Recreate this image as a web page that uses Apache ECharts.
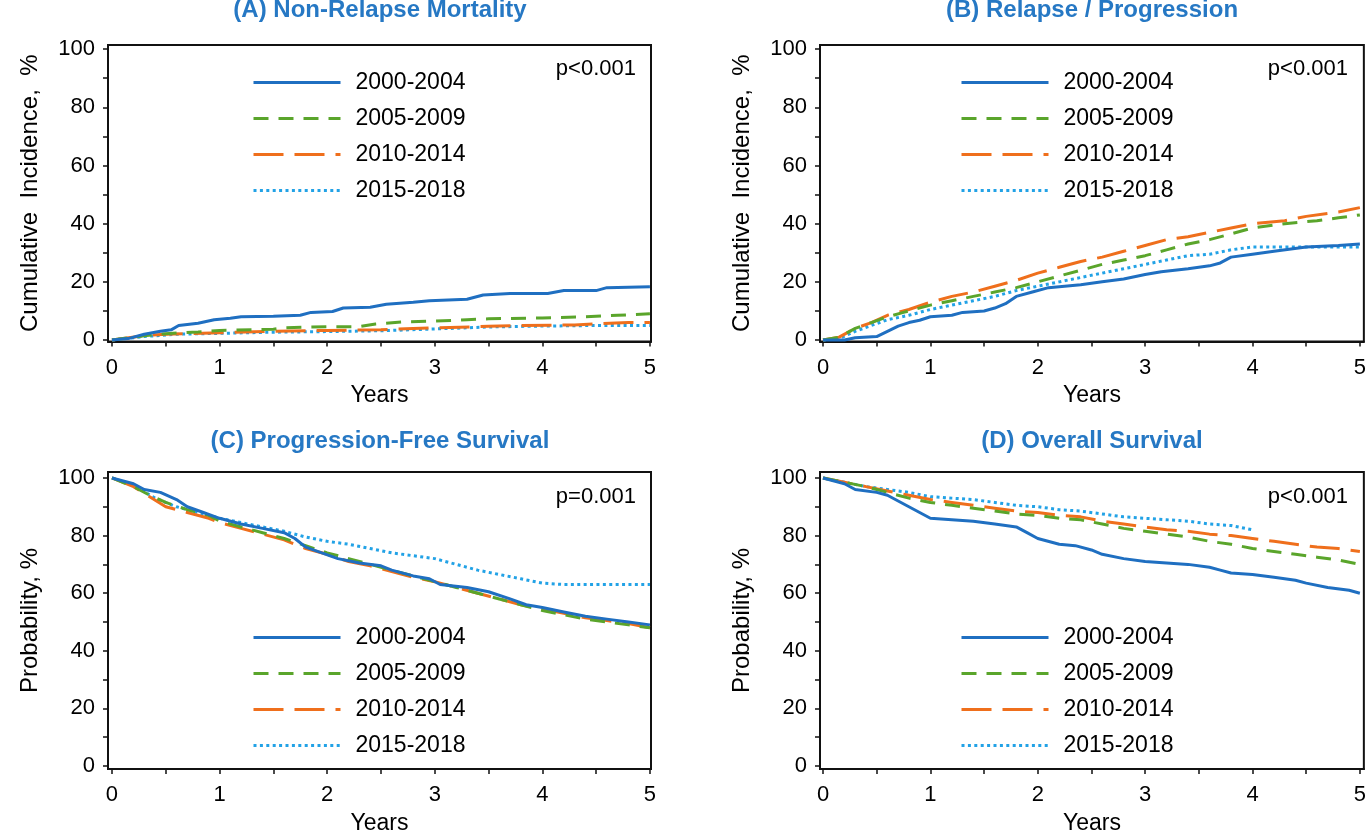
<!DOCTYPE html>
<html>
<head>
<meta charset="utf-8">
<script src="https://cdn.jsdelivr.net/npm/echarts@6/dist/echarts.min.js"></script>
<style>
html,body{margin:0;padding:0;background:#fff;}
#chart{width:1369px;height:836px;}
</style>
</head>
<body>
<div id="chart"></div>
<script>
// ---------- labels ----------
const groups = ['2000-2004', '2005-2009', '2010-2014', '2015-2018'];
const panelTitles = ['(A) Non-Relapse Mortality', '(B) Relapse / Progression', '(C) Progression-Free Survival', '(D) Overall Survival'];
const pValues = ['p<0.001', 'p<0.001', 'p=0.001', 'p<0.001'];
const yNames = ['Cumulative  Incidence,  %', 'Cumulative  Incidence,  %', 'Probability, %', 'Probability, %'];
const xName = 'Years';
const xTickValues = [0, 0.5, 1, 1.5, 2, 2.5, 3, 3.5, 4, 4.5, 5];
const xLabelValues = [0, 1, 2, 3, 4, 5];
const yTickValues = [0, 10, 20, 30, 40, 50, 60, 70, 80, 90, 100];
const yLabelValues = [0, 20, 40, 60, 80, 100];

// ---------- (A) Non-relapse mortality: [years, %] ----------
const nrm2000 = [[0,0],[0.15,0.5],[0.3,2],[0.45,3],[0.55,3.5],[0.62,5],[0.8,5.8],[0.95,7],[1.1,7.5],[1.2,8],[1.5,8.2],[1.75,8.5],[1.85,9.5],[2.05,9.8],[2.15,11],[2.4,11.3],[2.55,12.3],[2.8,13],[2.95,13.5],[3.3,14],[3.45,15.5],[3.7,16],[4.05,16],[4.2,17],[4.5,17],[4.6,18],[5,18.3]];
const nrm2005 = [[0,0],[0.3,1.5],[0.5,2.2],[0.8,2.8],[1.0,3.3],[1.5,3.7],[1.6,4.2],[1.8,4.4],[2.0,4.6],[2.3,4.6],[2.45,5.5],[2.7,6.2],[3.0,6.5],[3.3,7],[3.5,7.3],[4.0,7.6],[4.4,8],[4.7,8.5],[5,9]];
const nrm2010 = [[0,0],[0.3,1.5],[0.5,2],[1.0,2.5],[1.5,3],[2.0,3.3],[2.5,3.5],[2.8,4],[3.0,4.2],[3.5,4.7],[3.8,5],[4.3,5.2],[4.5,5.6],[4.8,6],[5,6]];
const nrm2015 = [[0,0],[0.3,1.2],[0.6,2],[1.0,2.3],[1.5,2.7],[2.0,2.9],[2.5,3.2],[3.0,3.8],[3.5,4.5],[4.0,4.8],[4.5,5],[5,5]];

// ---------- (B) Relapse / progression ----------
const rel2000 = [[0,0],[0.2,0],[0.3,0.8],[0.5,1.2],[0.6,3],[0.7,4.8],[0.8,6],[0.9,6.8],[1.0,8],[1.2,8.5],[1.3,9.5],[1.5,10],[1.6,11],[1.7,12.5],[1.8,15],[1.95,16.5],[2.1,18],[2.4,19],[2.6,20],[2.8,21],[3.0,22.5],[3.15,23.5],[3.4,24.5],[3.6,25.5],[3.7,26.5],[3.8,28.5],[4.0,29.5],[4.2,30.5],[4.5,32],[4.8,32.5],[5,33]];
const rel2005 = [[0,0],[0.15,1],[0.3,4],[0.45,6],[0.6,8],[0.75,9.5],[1.0,12],[1.2,13.5],[1.4,15],[1.6,16.5],[1.8,18],[2.0,20],[2.2,22],[2.4,24],[2.6,26],[2.8,27.5],[3.0,29],[3.2,31],[3.4,33],[3.6,34.5],[3.8,36.5],[4.0,38.5],[4.3,40],[4.6,41],[4.8,42],[5,43]];
const rel2010 = [[0,0],[0.15,1],[0.3,4],[0.45,6],[0.6,8.5],[0.8,10.5],[1.0,13],[1.2,15],[1.4,16.5],[1.6,18.5],[1.8,20.5],[2.0,23],[2.2,25],[2.4,27],[2.6,28.5],[2.8,30.5],[3.0,32.5],[3.2,34.5],[3.4,35.5],[3.6,37],[3.8,38.5],[4.0,40],[4.3,41],[4.5,42.5],[4.8,44],[5,45.5]];
const rel2015 = [[0,0],[0.15,0.5],[0.3,3],[0.45,5],[0.6,7],[0.8,8.5],[1.0,10.5],[1.2,12],[1.4,13.5],[1.6,15],[1.8,17],[2.0,18.5],[2.2,20],[2.4,21.5],[2.6,23],[2.8,24.5],[3.0,26],[3.2,27.5],[3.4,29],[3.6,29.5],[3.8,31],[4.0,32],[4.5,32],[5,32]];

// ---------- (C) Progression-free survival ----------
const pfs2000 = [[0,100],[0.2,98],[0.3,96],[0.45,95],[0.6,92.5],[0.7,90],[0.85,88],[1.0,86],[1.2,84],[1.4,82.5],[1.6,81],[1.7,79],[1.8,76],[1.95,74],[2.1,72],[2.3,70.5],[2.5,69.5],[2.6,68],[2.8,66],[2.95,65],[3.05,63],[3.3,62],[3.5,60.5],[3.7,58],[3.85,56],[4.0,55],[4.2,53.5],[4.4,52],[4.6,51],[4.8,50],[5,49]];
const pfs2005 = [[0,100],[0.2,97],[0.35,94],[0.5,91.5],[0.7,89],[0.9,87],[1.0,85],[1.2,83],[1.4,81],[1.6,79],[1.8,76.5],[2.0,74],[2.2,72],[2.4,70],[2.6,68],[2.8,66],[3.0,64],[3.2,62],[3.4,60],[3.6,58],[3.8,56],[4.0,54],[4.2,52.5],[4.4,51],[4.6,50],[4.8,49],[5,48]];
const pfs2010 = [[0,100],[0.2,97],[0.35,93.5],[0.5,90],[0.7,88],[0.9,86],[1.0,84.5],[1.2,82.5],[1.4,80.5],[1.6,78.5],[1.8,75.5],[2.0,73.5],[2.2,71],[2.4,69.5],[2.6,67.5],[2.8,65.5],[3.0,64],[3.2,62],[3.4,60],[3.6,58],[3.8,56],[4.0,54.5],[4.2,53],[4.4,51.5],[4.6,50.5],[4.8,49.5],[5,48]];
const pfs2015 = [[0,100],[0.2,97.5],[0.4,93],[0.6,90],[0.8,88],[1.0,86],[1.2,84.5],[1.4,83],[1.6,81.5],[1.8,79.5],[2.0,78],[2.2,77],[2.4,75.5],[2.6,74],[2.8,73],[3.0,72],[3.2,70],[3.4,68],[3.6,66.5],[3.8,65],[4.0,63.5],[4.2,63],[5,63]];

// ---------- (D) Overall survival ----------
const os2000 = [[0,100],[0.2,98],[0.3,96],[0.5,95],[0.6,94],[0.7,92],[0.8,90],[0.9,88],[1.0,86],[1.2,85.5],[1.4,85],[1.6,84],[1.8,83],[1.9,81],[2.0,79],[2.2,77],[2.35,76.5],[2.5,75],[2.6,73.5],[2.8,72],[3.0,71],[3.2,70.5],[3.4,70],[3.6,69],[3.7,68],[3.8,67],[4.0,66.5],[4.2,65.5],[4.4,64.5],[4.5,63.5],[4.7,62],[4.9,61],[5,60]];
const os2005 = [[0,100],[0.2,98.5],[0.4,97],[0.6,95],[0.8,93],[1.0,91.5],[1.2,90.5],[1.4,89.5],[1.6,88.5],[1.8,87.5],[2.0,87],[2.2,86],[2.4,85.5],[2.6,84],[2.8,82.5],[3.0,81.5],[3.2,80.5],[3.4,79.5],[3.6,78],[3.8,77],[4.0,75.5],[4.2,74.5],[4.4,73.5],[4.6,72.5],[4.8,71.5],[5,70]];
const os2010 = [[0,100],[0.2,98.5],[0.4,97],[0.6,95.5],[0.8,94],[1.0,92.5],[1.2,91.5],[1.4,90.5],[1.6,89.5],[1.8,88.5],[2.0,88],[2.2,87],[2.4,86.5],[2.6,85],[2.8,84],[3.0,83],[3.2,82],[3.4,81.5],[3.6,80.5],[3.8,80],[4.0,79],[4.2,78],[4.4,77],[4.6,76],[4.8,75.5],[5,74.5]];
const os2015 = [[0,100],[0.2,98.5],[0.4,97],[0.6,96],[0.8,95],[1.0,93.5],[1.2,93],[1.4,92.5],[1.6,91.5],[1.8,90.5],[2.0,90],[2.2,89],[2.4,88.5],[2.6,87.5],[2.8,86.5],[3.0,86],[3.2,85.5],[3.4,85],[3.6,84],[3.8,83.5],[4.0,82]];

const panelData = [
  [nrm2000, nrm2005, nrm2010, nrm2015],
  [rel2000, rel2005, rel2010, rel2015],
  [pfs2000, pfs2005, pfs2010, pfs2015],
  [os2000, os2005, os2010, os2015]
];

// ---------- styling / layout ----------
const colors = ['#1F6FC1', '#5AA52B', '#EF6F1C', '#22A2E6'];
const dashes = ['solid', [15, 10], [30, 11], [3, 3.4]];
const titleColor = '#2678C4';
const FONT = '"Liberation Sans", Arial, sans-serif';

const grids = [
  {left: 108, top: 45, width: 543, height: 296.5},
  {left: 820, top: 45, width: 545, height: 296.5},
  {left: 108, top: 472, width: 543, height: 299},
  {left: 820, top: 472, width: 545, height: 299}
];
const xRanges = [[-0.037, 5.01], [-0.028, 5.037], [-0.037, 5.01], [-0.028, 5.037]];
const yRanges = [[-0.5, 101.4], [-0.5, 101.4], [-1.03, 102.07], [-1.03, 102.07]];
const legendPos = [[252, 71], [960, 71], [252, 626], [960, 626]];
const titlePos = [[380, 10], [1092, 10], [380, 441], [1092, 441]];
const pPos = [[636, 69], [1348, 69], [636, 497], [1348, 497]];

const chart = echarts.init(document.getElementById('chart'), null, {renderer: 'canvas'});

const xAxes = [], yAxes = [], series = [], legends = [], graphics = [];
for (let p = 0; p < 4; p++) {
  xAxes.push({
    type: 'value', gridIndex: p, min: xRanges[p][0], max: xRanges[p][1],
    name: xName, nameLocation: 'middle', nameGap: 43,
    nameTextStyle: {fontSize: 23, color: '#000', fontFamily: FONT},
    axisLine: {show: true, onZero: false, lineStyle: {color: '#111', width: 2}},
    axisTick: {show: true, inside: false, length: 5, customValues: xTickValues, lineStyle: {color: '#111', width: 1.5}},
    axisLabel: {customValues: xLabelValues, margin: 15, fontSize: 22, color: '#000', fontFamily: FONT},
    splitLine: {show: false}
  });
  yAxes.push({
    type: 'value', gridIndex: p, min: yRanges[p][0], max: yRanges[p][1],
    name: yNames[p], nameLocation: 'middle', nameGap: 66,
    nameTextStyle: {fontSize: 24, color: '#000', fontFamily: FONT},
    axisLine: {show: true, onZero: false, lineStyle: {color: '#111', width: 2}},
    axisTick: {show: true, inside: false, length: 5, customValues: yTickValues, lineStyle: {color: '#111', width: 1.5}},
    axisLabel: {customValues: yLabelValues, margin: 13, fontSize: 22, color: '#000', fontFamily: FONT},
    splitLine: {show: false}
  });
  for (let s = 0; s < 4; s++) {
    series.push({
      type: 'line', name: groups[s], xAxisIndex: p, yAxisIndex: p,
      data: panelData[p][s], symbol: 'none', showSymbol: false,
      lineStyle: {color: colors[s], width: 3, type: dashes[s]},
      itemStyle: {color: colors[s]},
      z: 10 - s, silent: true, animation: false
    });
  }
  legends.push({
    orient: 'vertical', left: legendPos[p][0], top: legendPos[p][1],
    padding: 0, itemGap: 13, itemWidth: 87, itemHeight: 14,
    selectedMode: false, data: groups,
    itemStyle: {opacity: 0, borderWidth: 0},
    lineStyle: {width: 3},
    textStyle: {fontSize: 23, color: '#000', fontFamily: FONT, padding: [0, 0, 0, 10]}
  });
  graphics.push({
    type: 'text', x: titlePos[p][0], y: titlePos[p][1],
    style: {text: panelTitles[p], fill: titleColor, font: 'bold 24px ' + FONT, align: 'center', verticalAlign: 'middle'}
  });
  graphics.push({
    type: 'text', x: pPos[p][0], y: pPos[p][1],
    style: {text: pValues[p], fill: '#000', font: '22px ' + FONT, align: 'right', verticalAlign: 'middle'}
  });
}

chart.setOption({
  backgroundColor: '#ffffff',
  animation: false,
  grid: grids.map(g => Object.assign({show: true, borderColor: '#111', borderWidth: 2, backgroundColor: 'transparent'}, g)),
  xAxis: xAxes,
  yAxis: yAxes,
  legend: legends,
  series: series,
  graphic: graphics
});
</script>
</body>
</html>
